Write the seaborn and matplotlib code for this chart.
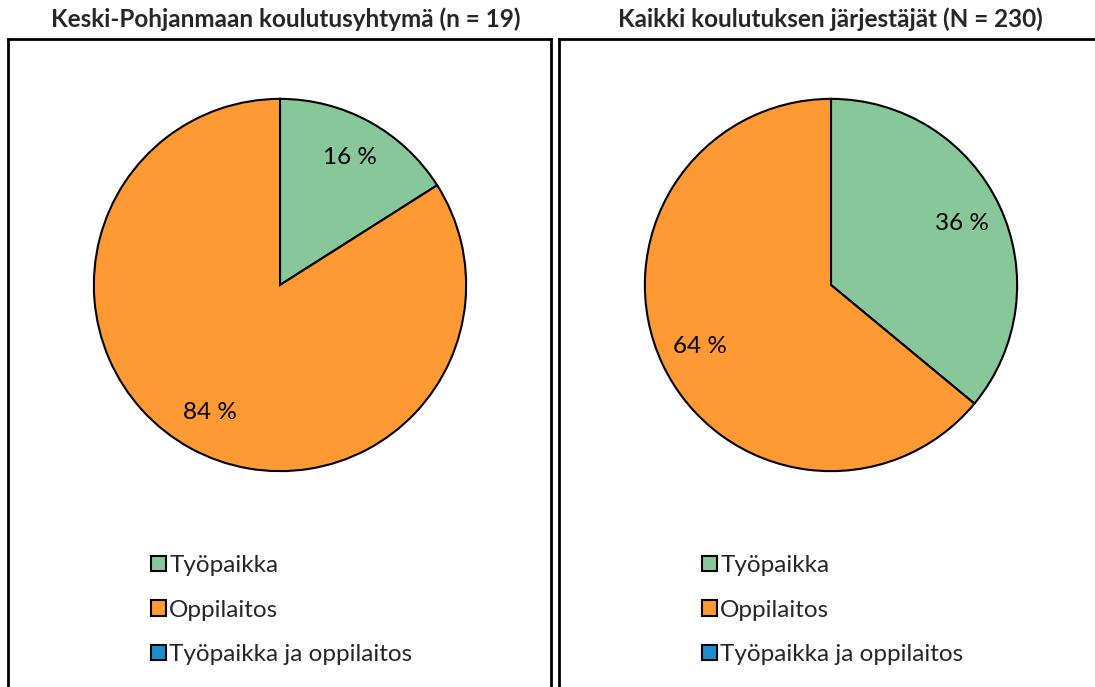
import matplotlib
matplotlib.use('Agg')
import matplotlib.pyplot as plt
import seaborn as sns
from matplotlib.patches import Patch

# data
categories = ['Työpaikka', 'Oppilaitos', 'Työpaikka ja oppilaitos']
titles = ['Keski-Pohjanmaan koulutusyhtymä (n = 19)',
          'Kaikki koulutuksen järjestäjät (N = 230)']
shares_local = [16, 84, 0]
shares_all = [36, 64, 0]
colors = ['#88C799', '#FF9933', '#1A8FD0']

sns.set_style('white')
plt.rcParams['font.family'] = ['Lato', 'DejaVu Sans']

W, H = 1095, 687
fig = plt.figure(figsize=(W / 100, H / 100), dpi=100)


def px_rect(x0, y0, x1, y1):
    # pixel box (top-left origin) -> figure fraction
    return [x0 / W, 1 - y1 / H, (x1 - x0) / W, (y1 - y0) / H]


def pct_label(p):
    return f'{p:.0f} %' if p > 0.5 else ''


panels = [
    (titles[0], shares_local, (8, 551), (280, 285), 286),
    (titles[1], shares_all, (559, 1110), (831, 285), 830),
]

for title, shares, (bx0, bx1), (cx, cy), tx in panels:
    # frame around the panel
    box = fig.add_axes(px_rect(bx0, 39, bx1, 700))
    box.set_xticks([])
    box.set_yticks([])
    for sp in box.spines.values():
        sp.set_color('black')
        sp.set_linewidth(2)

    r = 188
    ax = fig.add_axes(px_rect(cx - r, cy - r, cx + r, cy + r))
    vals = [v for v in shares if v > 0]
    cols = [c for v, c in zip(shares, colors) if v > 0]
    ax.pie(vals, colors=cols, startangle=90, counterclock=False,
           autopct=pct_label, pctdistance=0.78,
           wedgeprops=dict(edgecolor='black', linewidth=1.5),
           textprops=dict(fontsize=17.5, color='black'))
    ax.set_xlim(-1.01, 1.01)
    ax.set_ylim(-1.01, 1.01)
    ax.set_aspect('equal')
    ax.axis('off')

    fig.text(tx / W, 1 - 19 / H, title,
             ha='center', va='center', fontsize=17.5, fontweight='bold')

    handles = [Patch(facecolor=c, edgecolor='black', linewidth=1.5) for c in colors]
    fig.legend(handles, categories, loc='upper left',
               bbox_to_anchor=((cx - 129) / W, 1 - 555 / H),
               frameon=False, fontsize=17.5, handlelength=0.6, handleheight=0.6,
               handletextpad=0.15, labelspacing=0.97, borderaxespad=0,
               borderpad=0)

fig.savefig('out.png', dpi=100)
